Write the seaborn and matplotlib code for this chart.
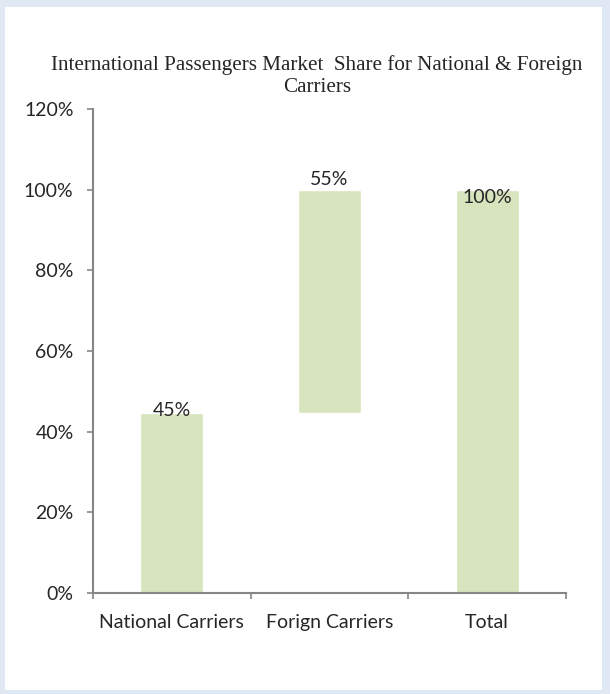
import matplotlib
matplotlib.use('Agg')
import matplotlib.pyplot as plt
from matplotlib.patches import Rectangle
from matplotlib.ticker import FixedLocator
import seaborn as sns
import pandas as pd

# chart data
categories = ['National Carriers', 'Forign Carriers', 'Total']
bar_heights = [44.6, 55.4, 100.0]
bar_bottoms = [0.0, 44.6, 0.0]
bar_labels = ['45%', '55%', '100%']
label_offsets = [0.6, 2.5, -2.0]   # where Excel put the data labels, relative to bar top
yticks = [0, 20, 40, 60, 80, 100, 120]

df = pd.DataFrame({'category': categories, 'height': bar_heights, 'bottom': bar_bottoms})

sns.set_style('white')
plt.rcParams['font.family'] = ['Lato', 'DejaVu Sans']

fig = plt.figure(figsize=(6.1, 6.94), dpi=100)
fig.patch.set_facecolor('#dfe8f3')
# white chart area inside the dotted light blue frame
frame = Rectangle((5 / 610, 4 / 694), 597 / 610, 683 / 694, transform=fig.transFigure,
                  facecolor='white', edgecolor='none', zorder=-10)
fig.patches.append(frame)

ax = fig.add_axes([93 / 610, 1 - 593 / 694, (566 - 93) / 610, (593 - 109) / 694])
ax.set_facecolor('none')
ax.set_zorder(5)

sns.barplot(data=df, x='category', y='height', bottom=df['bottom'].values, color='#d7e4bd',
            saturation=1, width=0.4, ax=ax)

# data labels
for i, lab in enumerate(bar_labels):
    top = bar_bottoms[i] + bar_heights[i]
    ax.text(i, top + label_offsets[i], lab, ha='center', va='center', fontsize=14)

ax.set_xlim(-0.5, 2.5)
ax.set_ylim(0, 120)
ax.set_yticks(yticks)
ax.set_yticklabels([f'{v}%' for v in yticks], fontsize=14)
ax.set_xticks(range(len(categories)))
ax.set_xticklabels(categories, fontsize=14)
ax.xaxis.set_minor_locator(FixedLocator([-0.5, 0.5, 1.5, 2.5]))
ax.tick_params(axis='x', which='major', length=0, pad=15)
ax.tick_params(axis='x', which='minor', length=4, width=1.2, color='#868686', bottom=True)
ax.tick_params(axis='y', length=4, width=1.2, color='#868686', left=True, pad=10)
ax.set_xlabel('')
ax.set_ylabel('')

sns.despine(ax=ax)
for side in ['left', 'bottom']:
    ax.spines[side].set_color('#868686')
    ax.spines[side].set_linewidth(1.5)

fig.text(317 / 610, 1 - 65 / 694, 'International Passengers Market  Share for National & Foreign',
         ha='center', va='center', fontsize=15.2, family=['Liberation Serif', 'DejaVu Serif'])
fig.text(317 / 610, 1 - 88 / 694, 'Carriers',
         ha='center', va='center', fontsize=15.2, family=['Liberation Serif', 'DejaVu Serif'])

fig.savefig('out.png', dpi=100)
